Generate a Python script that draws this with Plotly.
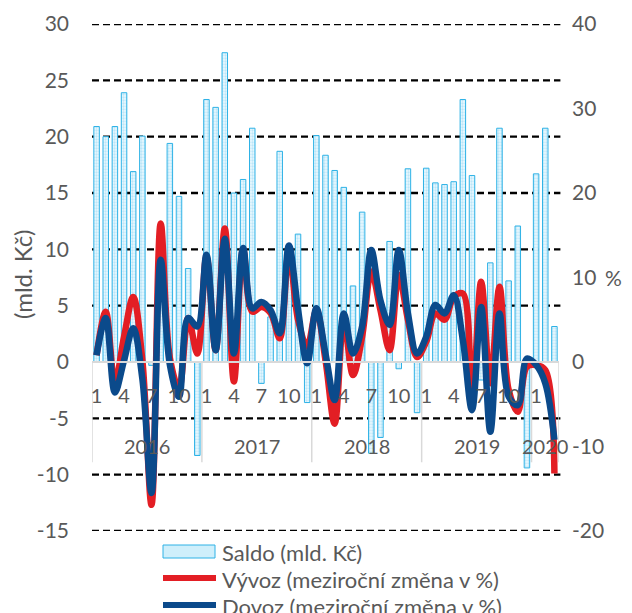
import plotly.graph_objects as go

# Months Jan 2016 .. Mar 2020 (index 0..50)
months = list(range(51))
month_numbers = [(i % 12) + 1 for i in months]
years = ["2016", "2017", "2018", "2019", "2020"]
year_first_idx = [0, 12, 24, 36, 48]
year_last_idx = [11, 23, 35, 47, 50]

# Saldo (mld. Kč) - left axis
saldo = [20.9, 20.0, 20.9, 23.9, 16.9, 20.05, -0.3, 6.0, 19.4, 14.7, 8.3, -8.3,
         23.3, 22.6, 27.45, 15.0, 16.2, 20.75, -1.9, 4.0, 18.7, 9.0, 11.35, -3.6,
         20.1, 18.35, 17.0, 15.5, 6.75, 13.3, -8.1, -6.7, 10.7, -0.6, 17.15, -4.5,
         17.2, 15.9, 15.75, 16.0, 23.3, 16.55, -1.6, 8.8, 20.75, 7.2, 12.07, -9.4,
         16.7, 20.75, 3.15]

# Vývoz (meziroční změna v %) - right axis
vyvoz = [0.8, 5.95, -2.5, 3.0, 7.7, 0.2, -16.9, 16.4, 0.5, -3.1, 5.2, 1.0,
         12.5, 1.4, 15.8, -2.3, 13.3, 5.95, 6.5, 5.8, 2.8, 13.05, 5.0, 1.8,
         6.1, 0.2, -7.3, 5.0, -1.55, 3.0, 10.7, 6.15, 1.4, 10.3, 5.0, 0.6,
         2.4, 5.75, 5.0, 7.7, 8.1, -4.5, 9.5, -2.5, 8.9, -3.3, -5.9, -0.55,
         -0.35, -0.95, -13.2]

# Dovoz (meziroční změna v %) - right axis
dovoz = [0.8, 5.2, -3.6, 0.2, 4.0, -2.0, -15.5, 12.1, -0.3, -4.1, 5.2, 4.2,
         12.7, 1.4, 14.6, 1.0, 13.5, 6.35, 7.1, 6.15, 3.4, 13.8, 6.2, -0.15,
         6.35, 1.0, -4.5, 5.75, 1.0, 4.2, 13.25, 7.3, 4.4, 13.25, 5.75, 1.0,
         3.0, 6.75, 5.75, 7.9, 2.6, -5.7, 6.5, -8.25, 5.75, -4.1, -5.1, 0.4,
         -0.35, -2.5, -9.2]

left_ticks = [-15, -10, -5, 0, 5, 10, 15, 20, 25, 30]
left_ticktext = ["-15", "-10", "-5", "0", "5", "10", "15", "20", "25", "30"]
right_ticks = [-20, -10, 0, 10, 20, 30, 40]
right_ticktext = ["-20", "-10", "0", "10", "20", "30", "40"]

FONT = "Lato"
TICK_COLOR = "#595959"
RED = "#E31E24"
BLUE = "#0B4A8B"
BAR_LINE = "#2EB2E6"

W, H = 632, 613
OFF = 8  # page body margin offset
# plot area in page pixels: x 92..559, y 24..531
ML, MR, MT, MB = 92 - OFF, W - (559 - OFF), 24 - OFF, H - (531 - OFF)
PW = W - ML - MR
PH = H - MT - MB


def px_x(px):
    return (px - 92) / PW


def px_y(py):
    return (531 - py) / PH


fig = go.Figure()

fig.add_trace(go.Bar(
    x=months, y=saldo, width=0.6, name="Saldo (mld. Kč)",
    marker=dict(
        color="#D9F1FB",
        line=dict(color=BAR_LINE, width=1),
        pattern=dict(shape=".", fgcolor="#8ED3F1", bgcolor="#EAF8FE", size=3, solidity=0.45),
    ),
    showlegend=False,
))

fig.add_trace(go.Scatter(
    x=months, y=vyvoz, yaxis="y2", mode="lines", name="Vývoz (meziroční změna v %)",
    line=dict(color=RED, width=6.5, shape="spline", smoothing=1.0),
    showlegend=False,
))
fig.add_trace(go.Scatter(
    x=months, y=dovoz, yaxis="y2", mode="lines", name="Dovoz (meziroční změna v %)",
    line=dict(color=BLUE, width=6.5, shape="spline", smoothing=1.0),
    showlegend=False,
))

shapes = []
# dashed gridlines (zero hidden by category axis)
for v in left_ticks:
    if v == 0:
        continue
    shapes.append(dict(type="line", xref="paper", x0=0, x1=1.003, yref="y", y0=v, y1=v,
                       line=dict(color="black", width=2.4, dash="7px,4px"), layer="below"))
# year separators in category label area
sep_positions = [year_first_idx[0] - 0.5] + [e + 0.5 for e in year_last_idx]
for s in sep_positions:
    shapes.append(dict(type="line", xref="x", x0=s, x1=s, yref="y", y0=0, y1=-8.9,
                       line=dict(color="#D9D9D9", width=1.5), layer="below"))

# custom legend
shapes.append(dict(type="rect", xref="paper", yref="paper",
                   x0=px_x(163), x1=px_x(215), y0=px_y(558), y1=px_y(545),
                   fillcolor="#CFEFFB", line=dict(color=BAR_LINE, width=1)))
shapes.append(dict(type="line", xref="paper", yref="paper",
                   x0=px_x(163), x1=px_x(216), y0=px_y(578), y1=px_y(578),
                   line=dict(color=RED, width=6)))
shapes.append(dict(type="line", xref="paper", yref="paper",
                   x0=px_x(163), x1=px_x(216), y0=px_y(605), y1=px_y(605),
                   line=dict(color=BLUE, width=6)))

annotations = []
for yr, a, b in zip(years, year_first_idx, year_last_idx):
    annotations.append(dict(text=yr, xref="x", x=(a + b) / 2, yref="y", y=-7.45,
                            showarrow=False, font=dict(family=FONT, size=20, color=TICK_COLOR)))
legend_items = [("Saldo (mld. Kč)", 552), ("Vývoz (meziroční změna v %)", 579),
                ("Dovoz (meziroční změna v %)", 606)]
for txt, py in legend_items:
    annotations.append(dict(text=txt, xref="paper", x=px_x(220), xanchor="left",
                            yref="paper", y=px_y(py), yanchor="middle", showarrow=False,
                            font=dict(family=FONT, size=22, color=TICK_COLOR)))
annotations.append(dict(text="(mld. Kč)", textangle=-90, xref="paper", x=px_x(22),
                        xanchor="center", yref="paper", y=px_y(275), yanchor="middle",
                        showarrow=False, font=dict(family=FONT, size=24, color=TICK_COLOR)))
annotations.append(dict(text="%", xref="paper", x=px_x(613), xanchor="center",
                        yref="y2", y=10, yanchor="middle",
                        showarrow=False, font=dict(family=FONT, size=21, color=TICK_COLOR)))

fig.update_layout(
    width=W, height=H,
    margin=dict(l=ML, r=MR, t=MT, b=MB, autoexpand=False),
    paper_bgcolor="white", plot_bgcolor="white",
    bargap=0.4,
    font=dict(family=FONT, size=20, color=TICK_COLOR),
    xaxis=dict(
        range=[-0.5, 50.5], anchor="free", position=15 / 45,
        showline=True, linecolor="#D9D9D9", linewidth=1.5,
        showgrid=False, zeroline=False, ticks="",
        tickmode="array",
        tickvals=[i for i in months if month_numbers[i] in (1, 4, 7, 10)],
        ticktext=[str(month_numbers[i]) for i in months if month_numbers[i] in (1, 4, 7, 10)],
        tickfont=dict(family=FONT, size=20, color=TICK_COLOR),
        ticklabelstandoff=16,
    ),
    yaxis=dict(
        range=[-15, 30], tickmode="array", tickvals=left_ticks, ticktext=left_ticktext,
        showgrid=False, zeroline=False, showline=False, ticks="",
        tickfont=dict(family=FONT, size=21, color=TICK_COLOR),
        ticklabelstandoff=22,
    ),
    yaxis2=dict(
        range=[-20, 40], tickmode="array", tickvals=right_ticks, ticktext=right_ticktext,
        overlaying="y", side="right",
        showgrid=False, zeroline=False, showline=False, ticks="",
        tickfont=dict(family=FONT, size=21, color=TICK_COLOR),
        ticklabelstandoff=12,
    ),
    shapes=shapes,
    annotations=annotations,
    showlegend=False,
)

fig.write_html("out.html")
